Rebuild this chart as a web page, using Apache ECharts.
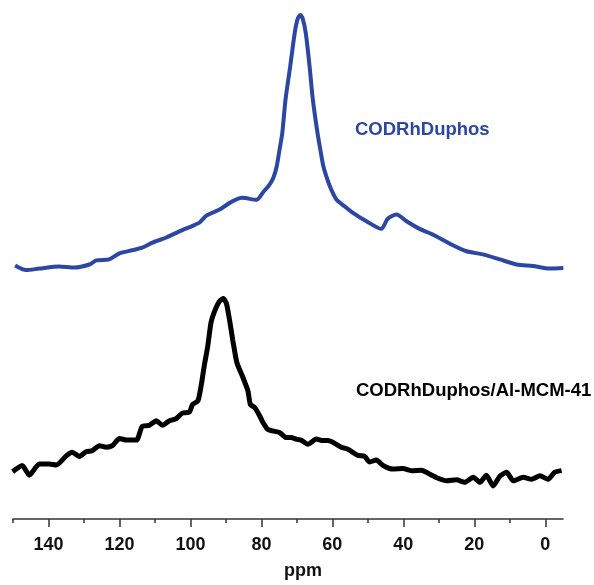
<!DOCTYPE html>
<html>
<head>
<meta charset="utf-8">
<script src="https://cdn.jsdelivr.net/npm/echarts@6/dist/echarts.min.js"></script>
<style>html,body{margin:0;padding:0;background:#fff;}#c{width:594px;height:585px;}</style>
</head>
<body>
<div id="c"></div>
<script>
// chemical shift (ppm) and intensity (arbitrary units, stacked offsets as in the figure)
var bluePpm = [149.4,146.3,142.6,137.0,132.7,128.5,126.5,122.9,120.0,116.4,113.6,110.7,106.8,103.1,99.4,97.5,95.5,91.8,88.2,85.4,81.4,79.4,77.7,76.6,75.7,74.9,74.1,73.2,71.9,70.6,69.8,69.0,68.4,67.5,66.4,65.5,64.2,63.3,62.5,61.4,60.3,58.8,56.5,54.3,50.4,46.2,44.4,41.9,39.1,35.4,31.7,26.9,22.2,17.6,12.8,8.1,3.5,-1.3,-5.1];
var blueInt = [49.8,48.9,49.2,49.6,49.4,50.0,50.8,51.0,52.2,52.8,53.3,54.3,55.3,56.5,57.6,58.2,59.6,60.8,62.4,63.1,62.7,64.3,65.7,67.1,69.2,72.5,75.9,82.4,88.8,95.5,98.2,99.0,98.4,95.5,88.8,82.4,75.9,72.2,69.2,66.7,64.7,62.7,61.4,60.2,58.5,57.0,59.0,59.8,58.5,57.0,55.9,54.1,52.6,52.0,51.0,50.0,49.7,49.2,49.3];

var blackPpm = [150.1,147.4,145.4,142.6,139.8,137.8,135.0,133.3,131.3,129.4,127.7,125.7,123.7,122.0,120.0,118.0,115.2,113.6,111.6,109.6,107.9,105.9,104.0,102.3,100.3,99.4,97.9,97.0,96.1,95.1,94.2,93.2,91.8,90.7,89.8,89.0,88.1,86.9,85.2,83.8,83.1,81.9,80.5,79.6,78.2,76.8,74.9,73.0,71.6,70.2,68.8,66.9,64.5,62.7,61.3,59.4,57.5,55.6,52.8,50.9,49.5,47.6,45.7,42.9,40.1,37.7,34.9,32.5,30.2,27.8,25.0,22.7,20.3,18.4,16.6,14.7,12.8,10.9,9.0,6.2,3.8,1.5,-0.8,-2.7,-4.6];
var blackInt = [9.3,10.5,8.6,10.8,10.8,10.6,12.4,13.1,12.3,13.2,13.4,14.4,14.1,14.4,15.8,15.5,15.5,18.2,18.4,19.3,18.4,19.3,19.7,20.8,21.0,22.5,23.2,26.1,30.1,34.0,38.6,40.8,42.8,43.3,42.2,39.2,35.3,30.7,27.8,25.2,22.5,21.9,20.3,19.0,17.6,17.3,17.0,16.0,16.0,15.7,15.5,14.7,15.7,15.4,15.4,14.9,14.1,13.7,12.5,12.3,11.2,11.6,10.5,9.8,9.9,9.5,9.6,8.8,8.0,7.5,7.7,7.2,8.2,7.2,8.6,6.5,8.4,9.2,7.5,8.2,7.8,8.5,7.8,9.2,9.5];

var majorTicks = [0,20,40,60,80,100,120,140];
var minorTicks = [10,30,50,70,90,110,130,150];
var seriesNames = ['CODRhDuphos','CODRhDuphos/Al-MCM-41'];
var axisTitle = 'ppm';

function pairs(xs, ys){ return xs.map(function(x,i){ return [x, ys[i]]; }); }

var chart = echarts.init(document.getElementById('c'), null, {renderer:'canvas'});
var font = 'Liberation Sans, Arial, sans-serif';
chart.setOption({
  animation: false,
  backgroundColor: '#ffffff',
  grid: {left: 13, right: 31, top: 10, bottom: 65},
  xAxis: [{
    type: 'value', inverse: true, min: -5, max: 150,
    axisLine: {show: true, lineStyle: {color: '#333', width: 1.5}},
    axisTick: {show: true, customValues: majorTicks, length: 8, lineStyle: {color: '#333', width: 1.5}},
    axisLabel: {show: true, customValues: majorTicks, margin: 17, color: '#111', fontSize: 18, fontWeight: 'bold', fontFamily: font},
    splitLine: {show: false},
    name: axisTitle, nameLocation: 'middle', nameGap: 43,
    nameTextStyle: {color: '#111', fontSize: 18, fontWeight: 'bold', fontFamily: font, padding: [0,0,0,30]}
  },{
    type: 'value', inverse: true, min: -5, max: 150, position: 'bottom',
    axisLine: {show: false},
    axisTick: {show: true, customValues: minorTicks, length: 4, lineStyle: {color: '#333', width: 1.5}},
    axisLabel: {show: false},
    splitLine: {show: false}
  }],
  yAxis: {type: 'value', min: 0, max: 100, show: false},
  series: [{
    name: seriesNames[0], type: 'line', data: pairs(bluePpm, blueInt),
    showSymbol: false, smooth: 0.25,
    lineStyle: {color: '#2b47a3', width: 4}
  },{
    name: seriesNames[1], type: 'line', data: pairs(blackPpm, blackInt),
    showSymbol: false, smooth: 0.2,
    lineStyle: {color: '#000000', width: 5}
  }],
  graphic: [{
    type: 'text', left: 355, top: 120,
    style: {text: seriesNames[0], fill: '#2b47a3', font: 'bold 18.5px ' + font}
  },{
    type: 'text', left: 356, top: 381,
    style: {text: seriesNames[1], fill: '#000000', font: 'bold 18.5px ' + font}
  }]
});
</script>
</body>
</html>
